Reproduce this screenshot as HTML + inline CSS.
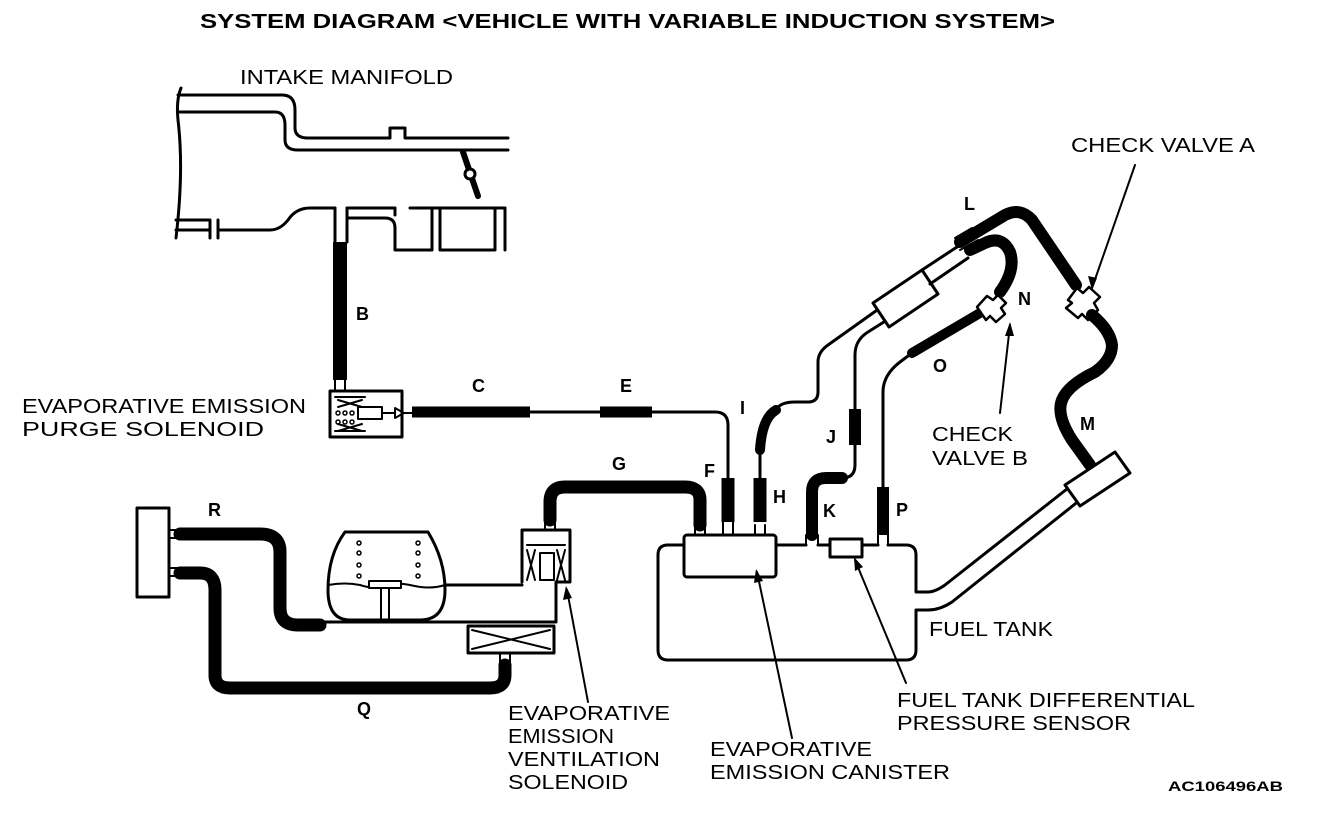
<!DOCTYPE html>
<html><head><meta charset="utf-8"><style>
html,body{margin:0;padding:0;background:#fff;}
svg{display:block;}
text{font-family:"Liberation Sans",sans-serif;fill:#000;}
.l{font-size:20px;}
.b{font-size:18px;font-weight:bold;}
</style></head><body>
<svg width="1328" height="818" viewBox="0 0 1328 818" xmlns="http://www.w3.org/2000/svg">
<g fill="none" stroke="#000" stroke-width="3" stroke-linejoin="round" stroke-linecap="round">
<path d="M181 88 Q176 100 178 120 Q184 170 176 238"/>
<path d="M178 95 H282 Q295 95 295 110 V128 Q295 138 308 138 H390 V128 H405 V138 H508"/>
<path d="M178 112 H275 Q285 112 285 125 V140 Q285 150 298 150 H508"/>
<path d="M176 230 H210 M218 230 H270 Q280 230 288 220 Q296 208 310 208 H335 M347 208 H395 V215 M410 208 H505"/>
<path d="M176 220 H210 V238 M218 238 V220"/>
<path d="M335 208 V242 M347 208 V242"/>
<path d="M347 218 H385 Q395 218 395 228 V250 H432 V208 M440 208 V250 H495 V208 M505 208 V250"/>
<path d="M463 152 L478 196" stroke-width="6"/>
<circle cx="470" cy="174" r="5" fill="#fff"/>
<path d="M340 242 V380" stroke-width="14" stroke-linecap="butt"/>
<path d="M335 380 V392 M345 380 V392" stroke-width="2"/>
<rect x="330" y="391" width="72" height="46" fill="#fff"/>
<path d="M335 397 H365 M335 431 H365 M338 400 L362 407 M338 407 L362 400 M338 424 L362 431 M338 431 L362 424" stroke-width="2"/>
<rect x="358" y="407" width="24" height="12" stroke-width="2"/>
<circle cx="338" cy="413" r="2" stroke-width="1.5"/><circle cx="345" cy="413" r="2" stroke-width="1.5"/><circle cx="352" cy="413" r="2" stroke-width="1.5"/>
<circle cx="338" cy="422" r="2" stroke-width="1.5"/><circle cx="345" cy="422" r="2" stroke-width="1.5"/><circle cx="352" cy="422" r="2" stroke-width="1.5"/>
<path d="M382 413 H395 M395 408 L404 413 L395 418 Z M404 413 H412" stroke-width="2"/>
<path d="M412 412 H530" stroke-width="11" stroke-linecap="butt"/>
<path d="M530 412 H600" stroke-width="3"/>
<path d="M600 412 H652" stroke-width="11" stroke-linecap="butt"/>
<path d="M652 412 H715 Q728 412 728 425 V478"/>
<path d="M728 478 V522" stroke-width="13" stroke-linecap="butt"/>
<path d="M723 522 V535 M733 522 V535" stroke-width="2"/>
<path d="M700 525 V500 Q700 487 685 487 H565 Q550 487 550 502 V520" stroke-width="13"/>
<path d="M545 520 V530 M555 520 V530" stroke-width="2"/>
<rect x="684" y="535" width="92" height="42" rx="3" fill="#fff"/>
<path d="M695 525 V535 M705 525 V535 M755 525 V535 M765 525 V535" stroke-width="2"/>
<path d="M760 478 V522" stroke-width="13" stroke-linecap="butt"/>
<path d="M760 478 V450"/>
<path d="M760 450 Q762 418 776 410" stroke-width="10"/>
<path d="M776 410 Q780 402 795 402 H808 Q818 402 818 392 V362 Q818 352 828 345 L880 308"/>
<path d="M684 545 H668 Q658 545 658 555 V650 Q658 660 668 660 H906 Q916 660 916 650 V610 H928 Q940 610 952 602 L1080 500"/>
<path d="M776 545 H806 M818 545 H830 M862 545 H878 M888 545 H906 Q916 545 916 555 V592 H928 Q935 592 945 585 L1072 485"/>
<path d="M806 535 V545 M818 535 V545 M878 535 V545 M888 535 V545" stroke-width="2"/>
<rect x="830" y="539" width="32" height="18" fill="#fff"/>
<path d="M812 535 V492 Q812 478 826 478 H842" stroke-width="12"/>
<path d="M842 478 Q855 478 855 465 V445"/>
<path d="M855 445 V409" stroke-width="12" stroke-linecap="butt"/>
<path d="M855 409 V355 Q855 340 868 332 L930 293"/>
<path d="M883 535 V487" stroke-width="12" stroke-linecap="butt"/>
<path d="M883 487 V392 Q883 375 900 362 L912 353"/>
<path d="M912 353 L980 313" stroke-width="10"/>
<path d="M873 303 L922 270 L938 294 L889 327 Z" fill="#fff"/>
<path d="M922 270 L960 245 M930 284 L968 258" stroke-width="3"/>
<path d="M960 242 L1005 215 Q1020 207 1032 220 L1076 285" stroke-width="12"/>
<path d="M955 238 L972 228 M960 250 L978 240" stroke-width="2"/>
<path d="M970 250 L985 243 Q1002 235 1010 252 Q1016 270 1000 292" stroke-width="12"/>
<path d="M977 307 L987 296 L993 300 L998 295 L1006 303 L1001 308 L1005 314 L996 322 L990 316 L986 320 Z" fill="#fff" stroke-width="2.5"/>
<path d="M1068 300 L1077 288 L1083 293 L1089 287 L1100 297 L1094 303 L1098 310 L1088 320 L1082 314 L1078 318 L1066 308 L1072 303 Z" fill="#fff" stroke-width="2.5"/>
<path d="M1092 315 Q1110 330 1112 345 Q1112 360 1095 372 Q1068 385 1062 400 Q1056 415 1072 440 L1090 465" stroke-width="12"/>
<path d="M1065 485 L1115 452 L1130 473 L1080 506 Z" fill="#fff"/>
<rect x="137" y="508" width="32" height="89" fill="#fff"/>
<path d="M169 530 H180 M169 538 H180 M169 568 H180 M169 576 H180" stroke-width="2"/>
<path d="M180 534 H260 Q280 534 280 552 V608 Q280 625 298 625 H320" stroke-width="13"/>
<path d="M180 573 H200 Q215 573 215 590 V675 Q215 688 230 688 H490 Q505 688 505 675 V665" stroke-width="13"/>
<path d="M320 622 H555"/>
<rect x="468" y="626" width="86" height="27" fill="#fff"/>
<path d="M472 630 L550 649 M472 649 L550 630" stroke-width="2"/>
<path d="M500 653 V667 M510 653 V667" stroke-width="2"/>
<path d="M345 532 H428 Q445 560 445 590 Q445 620 420 620 H350 Q328 620 328 590 Q328 555 345 532 Z" fill="#fff"/>
<path d="M328 585 Q345 582 360 585 Q375 590 385 585 Q395 582 410 585 Q430 590 445 585" stroke-width="2"/>
<rect x="369" y="581" width="32" height="7" fill="#fff" stroke-width="2"/>
<path d="M381 588 V620 M389 588 V620" stroke-width="2"/>
<g stroke-width="1.5"><circle cx="359" cy="543" r="2"/><circle cx="359" cy="553" r="2"/><circle cx="359" cy="565" r="2"/><circle cx="359" cy="576" r="2"/><circle cx="418" cy="543" r="2"/><circle cx="418" cy="553" r="2"/><circle cx="418" cy="565" r="2"/><circle cx="418" cy="576" r="2"/></g>
<path d="M445 585 H522"/>
<path d="M522 530 H570 V582 H556 V622 M522 530 V582" fill="#fff"/>
<path d="M527 545 H565 M527 580 L535 550 M535 580 L527 550 M557 580 L565 550 M565 580 L557 550" stroke-width="2"/>
<rect x="540" y="553" width="14" height="27" stroke-width="2"/>
<g stroke-width="2">
<path d="M1135 165 L1092 288"/>
<path d="M1000 413 L1010 325"/>
<path d="M588 702 L567 590"/>
<path d="M792 738 L757 572"/>
<path d="M906 683 L855 560"/>
</g>
</g>
<g fill="#000">
<path d="M1092 290 L1088 276 L1097 278 Z"/>
<path d="M1010 322 L1005 336 L1014 336 Z"/>
<path d="M566 586 L563 600 L572 598 Z"/>
<path d="M756 569 L754 583 L763 581 Z"/>
<path d="M854 557 L855 571 L863 567 Z"/>
</g>
<text x="200" y="28" class="b" textLength="855" lengthAdjust="spacingAndGlyphs" style="font-size:20px">SYSTEM DIAGRAM &lt;VEHICLE WITH VARIABLE INDUCTION SYSTEM&gt;</text>
<text x="240" y="84" class="l" textLength="213" lengthAdjust="spacingAndGlyphs">INTAKE MANIFOLD</text>
<text x="1071" y="152" class="l" textLength="184" lengthAdjust="spacingAndGlyphs">CHECK VALVE A</text>
<text x="22" y="413" class="l" textLength="284" lengthAdjust="spacingAndGlyphs">EVAPORATIVE EMISSION</text>
<text x="22" y="436" class="l" textLength="242" lengthAdjust="spacingAndGlyphs">PURGE SOLENOID</text>
<text x="932" y="441" class="l" textLength="81" lengthAdjust="spacingAndGlyphs">CHECK</text>
<text x="932" y="465" class="l" textLength="96" lengthAdjust="spacingAndGlyphs">VALVE B</text>
<text x="929" y="636" class="l" textLength="124" lengthAdjust="spacingAndGlyphs">FUEL TANK</text>
<text x="897" y="707" class="l" textLength="298" lengthAdjust="spacingAndGlyphs">FUEL TANK DIFFERENTIAL</text>
<text x="897" y="730" class="l" textLength="234" lengthAdjust="spacingAndGlyphs">PRESSURE SENSOR</text>
<text x="508" y="720" class="l" textLength="162" lengthAdjust="spacingAndGlyphs">EVAPORATIVE</text>
<text x="508" y="743" class="l" textLength="106" lengthAdjust="spacingAndGlyphs">EMISSION</text>
<text x="508" y="766" class="l" textLength="152" lengthAdjust="spacingAndGlyphs">VENTILATION</text>
<text x="508" y="789" class="l" textLength="120" lengthAdjust="spacingAndGlyphs">SOLENOID</text>
<text x="710" y="756" class="l" textLength="162" lengthAdjust="spacingAndGlyphs">EVAPORATIVE</text>
<text x="710" y="779" class="l" textLength="240" lengthAdjust="spacingAndGlyphs">EMISSION CANISTER</text>
<text x="1168" y="791" class="b" style="font-size:14px" textLength="115" lengthAdjust="spacingAndGlyphs">AC106496AB</text>
<text x="356" y="320" class="b">B</text>
<text x="472" y="392" class="b">C</text>
<text x="620" y="392" class="b">E</text>
<text x="612" y="470" class="b">G</text>
<text x="704" y="477" class="b">F</text>
<text x="740" y="414" class="b">I</text>
<text x="773" y="503" class="b">H</text>
<text x="823" y="517" class="b">K</text>
<text x="826" y="443" class="b">J</text>
<text x="896" y="516" class="b">P</text>
<text x="933" y="372" class="b">O</text>
<text x="1018" y="305" class="b">N</text>
<text x="964" y="210" class="b">L</text>
<text x="1080" y="430" class="b">M</text>
<text x="208" y="516" class="b">R</text>
<text x="357" y="715" class="b">Q</text>
</svg>
</body></html>
